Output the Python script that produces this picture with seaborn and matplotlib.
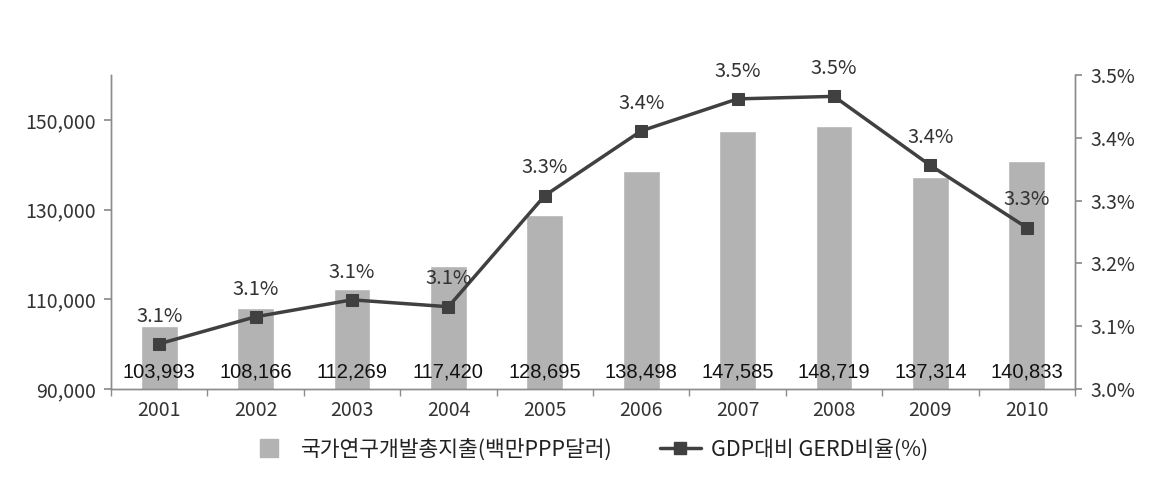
import numpy as np
import matplotlib
matplotlib.use('Agg')
import matplotlib.pyplot as plt
import matplotlib.transforms as mtransforms
from matplotlib.lines import Line2D
from matplotlib.ticker import FuncFormatter, FixedLocator
import seaborn as sns

years = ['2001', '2002', '2003', '2004', '2005', '2006', '2007', '2008', '2009', '2010']
rnd_total = [103993, 108166, 112269, 117420, 128695, 138498, 147585, 148719, 137314, 140833]
gerd_ratio = [3.072, 3.115, 3.142, 3.131, 3.308, 3.411, 3.462, 3.466, 3.356, 3.257]

bar_label = '국가연구개발총지출(백만PPP달러)'
line_label = 'GDP대비 GERD비율(%)'

sns.set_theme(style='white')
plt.rcParams['font.family'] = ['Noto Sans CJK KR', 'DejaVu Sans']

bar_color = '#b3b3b3'
line_color = '#404040'
text_color = '#333333'
spine_color = '#8c8c8c'

fig = plt.figure(figsize=(11.59, 4.8), dpi=100)
ax = fig.add_axes([0.0958, 0.1896, 0.8317, 0.6541])

sns.barplot(x=years, y=rnd_total, color=bar_color, width=0.38, saturation=1,
            ax=ax, zorder=2)
ax.set_ylim(90000, 160000)
ax.set_xlim(-0.5, len(years) - 0.5)
ax.set_yticks([90000, 110000, 130000, 150000])
ax.yaxis.set_major_formatter(FuncFormatter(lambda v, p: f'{int(v):,}'))

ax2 = ax.twinx()
sns.lineplot(x=np.arange(len(years)), y=gerd_ratio, ax=ax2, color=line_color,
             linewidth=2.5, marker='s', markersize=8, markeredgecolor=line_color,
             legend=False, zorder=3)
ax2.set_ylim(3.0, 3.5)
ax2.set_yticks([3.0, 3.1, 3.2, 3.3, 3.4, 3.5])
ax2.yaxis.set_major_formatter(FuncFormatter(lambda v, p: f'{v:.1f}%'))
ax2.set_xlim(-0.5, len(years) - 0.5)

# value labels near bottom of bars
trans = mtransforms.blended_transform_factory(ax.transData, ax.transAxes)
for i, v in enumerate(rnd_total):
    ax.text(i, 0.054, f'{v:,}', transform=trans, ha='center', va='center',
            fontsize=14.5, color='#111111', family=['Liberation Sans', 'DejaVu Sans'],
            zorder=4)

# percent labels above markers
for i, v in enumerate(gerd_ratio):
    ax2.annotate(f'{v:.1f}%', (i, v), xytext=(0, 20), textcoords='offset points',
                 ha='center', va='center', fontsize=14.5, color=text_color)

for a in (ax, ax2):
    for s in a.spines.values():
        s.set_color(spine_color)
        s.set_linewidth(1)
    a.spines['top'].set_visible(False)
    a.set_xlabel('')
    a.set_ylabel('')

ax.tick_params(axis='y', direction='out', length=5, color=spine_color, left=True,
               labelsize=14, labelcolor=text_color, pad=6)
ax2.tick_params(axis='y', direction='out', length=5, color=spine_color, right=True,
                labelsize=14, labelcolor=text_color, pad=6)
ax.tick_params(axis='x', which='major', length=0, labelsize=14, labelcolor=text_color, pad=8)
ax.xaxis.set_minor_locator(FixedLocator(np.arange(-0.5, len(years), 1.0)))
ax.tick_params(axis='x', which='minor', direction='out', length=5, color=spine_color, bottom=True)

# legend: square swatch for bars, line with square marker for ratio
handles = [
    Line2D([], [], linestyle='none', marker='s', markersize=13,
           color=bar_color, markeredgecolor=bar_color),
    Line2D([], [], color=line_color, linewidth=2.5, marker='s', markersize=8),
]
fig.legend(handles, [bar_label, line_label], loc='lower center',
           bbox_to_anchor=(0.508, 0.0), ncol=2, frameon=False, fontsize=15.5,
           handlelength=1.9, handletextpad=0.5, columnspacing=2.2,
           labelcolor='#222222')

fig.savefig('out.png', dpi=100)
